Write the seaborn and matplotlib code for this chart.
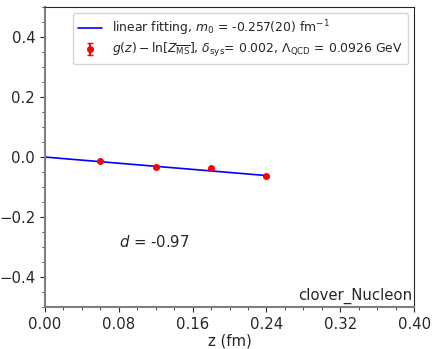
import numpy as np
import pandas as pd
import matplotlib
matplotlib.use("Agg")
import matplotlib.pyplot as plt
from matplotlib.ticker import AutoMinorLocator, MultipleLocator
import seaborn as sns

# data
z_fm = [0.06, 0.12, 0.18, 0.24]
g_minus_lnZ = [-0.013, -0.033, -0.037, -0.063]
g_err = [0.002, 0.002, 0.002, 0.002]
m0 = -0.257
fit_z = [0.0, 0.24]

sns.set_style("ticks")
plt.rcParams['font.family'] = ['DejaVu Sans']
plt.rcParams['mathtext.fontset'] = 'dejavusans'

fig, ax = plt.subplots(figsize=(4.36, 3.49), dpi=100)

fit_df = pd.DataFrame({"z": fit_z, "y": [m0 * z for z in fit_z]})
sns.lineplot(data=fit_df, x="z", y="y", color="blue", lw=1.2, ax=ax,
             label=r"linear fitting, $m_0$ = -0.257(20) fm$^{-1}$")
ax.errorbar(z_fm, g_minus_lnZ, yerr=g_err, fmt="o", color="red", ms=4, capsize=2,
            label=r"$g(z) - \ln[Z_{\overline{\rm MS}}]$, $\delta_{\rm sys}$= 0.002, $\Lambda_{\rm QCD}$ = 0.0926 GeV")

ax.text(0.08, -0.3, r"$d$ = -0.97", fontsize=10.7)
ax.text(0.995, 0.01, "clover_Nucleon", transform=ax.transAxes, ha="right", va="bottom", fontsize=10.7)

ax.set_xlim(0, 0.4)
ax.set_ylim(-0.5, 0.5)
ax.xaxis.set_major_locator(MultipleLocator(0.08))
ax.yaxis.set_major_locator(MultipleLocator(0.2))
ax.xaxis.set_minor_locator(AutoMinorLocator(4))
ax.yaxis.set_minor_locator(AutoMinorLocator(4))
ax.xaxis.set_major_formatter(plt.FormatStrFormatter("%.2f"))
ax.tick_params(labelsize=10.7)
ax.set_xlabel("z (fm)", fontsize=10.7, labelpad=1)
ax.set_ylabel("")
for s in ["left", "bottom"]:
    ax.spines[s].set_color("gray")
    ax.spines[s].set_linewidth(1.5)

ax.legend(loc="upper right", fontsize=8.9, handlelength=2, labelspacing=0.3,
          borderpad=0.4)
fig.subplots_adjust(left=0.103, right=0.95, top=0.98, bottom=0.12)
fig.savefig("out.png", dpi=100)
